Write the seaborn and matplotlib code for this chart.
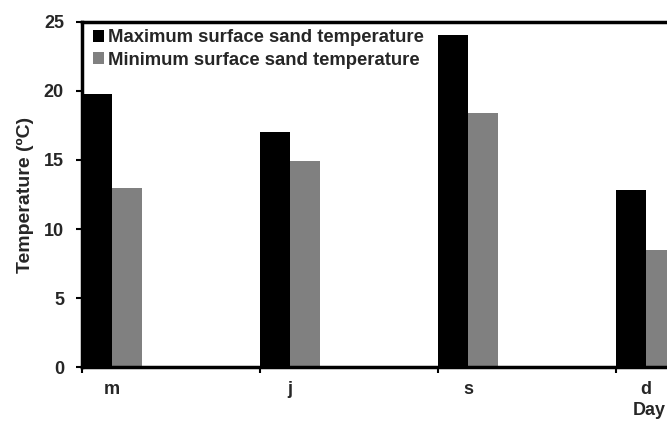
import matplotlib
matplotlib.use("Agg")
import matplotlib.pyplot as plt
import seaborn as sns
import pandas as pd
import numpy as np

days = ["m", "j", "s", "d"]
max_temp = [19.75, 17.05, 24.05, 12.8]
min_temp = [13.0, 14.9, 18.4, 8.5]
series = ["Maximum surface sand temperature", "Minimum surface sand temperature"]
colors = ["#000000", "#808080"]
yticks = [0, 5, 10, 15, 20, 25]

df = pd.DataFrame({
    "Day": days * 2,
    "Temperature": max_temp + min_temp,
    "Series": [series[0]] * len(days) + [series[1]] * len(days),
})

sns.set_style("white")
plt.rcParams['font.family'] = ['Liberation Sans', 'DejaVu Sans']
plt.rcParams['font.weight'] = 'bold'

fig = plt.figure(figsize=(6.67, 4.21), dpi=100)
ax = fig.add_axes([0.123, 0.128, 0.877, 0.82])

sns.barplot(data=df, x="Day", y="Temperature", hue="Series", order=days,
            hue_order=series, palette=colors, width=0.336, saturation=1,
            edgecolor="none", linewidth=0, ax=ax)

bw = 0.168
ax.set_xlim(-bw, 3.118)
ax.set_ylim(0, 25)
ax.set_yticks(yticks)
ax.set_yticklabels([str(t) for t in yticks], fontsize=13, fontweight='bold')
ax.set_xticks(range(len(days)))
ax.set_xticklabels(days, fontsize=13, fontweight='bold')
ax.set_xticks([i - bw for i in range(len(days))], minor=True)
ax.tick_params(axis='x', which='major', length=0, pad=10)
ax.tick_params(axis='x', which='minor', length=4, width=1.5, direction='out', color='black', bottom=True)
ax.tick_params(axis='y', length=4, width=1.5, direction='out', color='black', left=True, pad=9)

for side in ["left", "bottom", "top"]:
    ax.spines[side].set_visible(True)
    ax.spines[side].set_color("black")
    ax.spines[side].set_linewidth(2.5)
ax.spines["right"].set_visible(False)

ax.set_xlabel("")
ax.set_ylabel("Temperature (ºC)", fontsize=14, fontweight='bold', labelpad=7)

leg = ax.legend(loc="upper left", bbox_to_anchor=(0.006, 1.0), frameon=False,
                handlelength=0.6, handleheight=0.6, handletextpad=0.2,
                labelspacing=0.3, borderaxespad=0.0,
                prop={'weight': 'bold', 'size': 13.3})

fig.text(0.974, 0.024, "Day", ha='center', va='center', fontsize=13, fontweight='bold')

fig.savefig("out.png", dpi=100)
